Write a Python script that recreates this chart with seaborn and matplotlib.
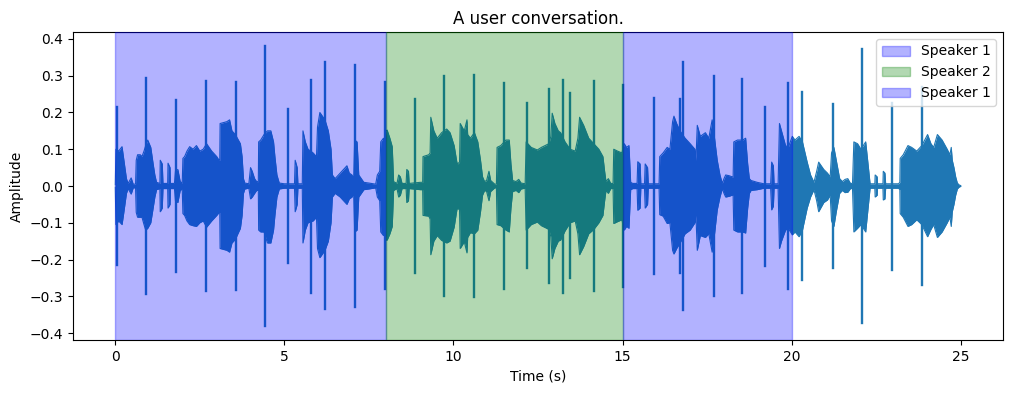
import matplotlib
matplotlib.use("Agg")
import matplotlib.pyplot as plt
import pandas as pd
import seaborn as sns

env_t = [
 0.00,0.02,0.10,0.20,0.24,0.30,0.33,0.38,0.47,0.53,
 0.60,0.62,0.66,0.74,0.79,0.85,0.90,0.96,1.05,1.12,
 1.17,1.22,1.32,1.33,1.39,1.41,1.55,1.56,1.62,1.63,
 1.75,1.78,1.85,1.92,1.98,2.00,2.05,2.12,2.20,2.30,
 2.40,2.50,2.60,2.70,2.85,3.00,3.07,3.09,3.10,3.30,
 3.38,3.45,3.55,3.70,3.75,3.79,3.83,3.95,4.00,4.05,
 4.12,4.18,4.23,4.24,4.30,4.40,4.50,4.60,4.68,4.72,
 4.78,4.85,5.00,5.30,5.32,5.38,5.40,5.53,5.55,5.62,
 5.70,5.85,5.95,5.98,6.05,6.20,6.30,6.38,6.42,6.50,
 6.65,6.75,6.85,6.92,7.00,7.05,7.08,7.15,7.20,7.35,
 7.50,7.70,7.75,7.82,7.85,7.93,7.96,8.00,8.04,8.12,
 8.19,8.23,8.33,8.38,8.43,8.48,8.60,8.62,8.67,8.69,
 9.02,9.09,9.10,9.27,9.31,9.33,9.42,9.52,9.65,9.80,
 9.90,10.02,10.10,10.12,10.18,10.20,10.32,10.40,10.42,10.50,
 10.62,10.72,10.80,10.86,10.92,10.98,11.05,11.10,11.22,11.27,
 11.29,11.40,11.55,11.65,11.70,11.75,11.85,11.93,12.00,12.12,
 12.15,12.20,12.30,12.48,12.60,12.82,12.88,12.92,13.00,13.10,
 13.17,13.30,13.45,13.60,13.68,13.73,13.85,14.00,14.15,14.30,
 14.42,14.47,14.51,14.58,14.65,14.72,14.74,14.85,14.98,15.05,
 15.12,15.19,15.24,15.30,15.43,15.45,15.52,15.54,15.65,15.67,
 15.74,15.76,16.00,16.08,16.10,16.20,16.32,16.40,16.48,16.52,
 16.60,16.70,16.85,17.00,17.14,17.17,17.21,17.30,17.45,17.55,
 17.65,17.72,17.80,17.88,17.95,18.00,18.05,18.15,18.24,18.27,
 18.29,18.40,18.55,18.64,18.70,18.75,18.80,18.98,19.18,19.38,
 19.41,19.46,19.48,19.60,19.64,19.70,19.82,19.90,20.02,20.10,
 20.22,20.32,20.46,20.56,20.66,20.74,20.80,20.95,21.06,21.14,
 21.18,21.25,21.32,21.42,21.50,21.58,21.66,21.74,21.80,21.84,
 21.95,22.05,22.19,22.26,22.32,22.46,22.47,22.53,22.54,22.70,
 22.71,22.76,22.78,23.16,23.20,23.21,23.30,23.44,23.55,23.70,
 23.85,24.02,24.12,24.20,24.31,24.45,24.60,24.68,24.72,24.75,
 24.80,24.85,24.90,24.95,25.00]
env_up = [
 .003,.100,.095,.107,.080,.040,.020,.007,.022,.005,
 .005,.070,.085,.085,.080,.095,.110,.125,.105,.060,
 .030,.010,.007,.070,.060,.007,.007,.062,.050,.007,
 .007,.040,.045,.012,.008,.075,.080,.095,.107,.100,
 .110,.095,.100,.115,.095,.080,.070,.070,.170,.175,
 .180,.150,.140,.115,.080,.020,.008,.006,.050,.040,
 .020,.012,.012,.120,.125,.140,.150,.150,.120,.080,
 .030,.008,.006,.006,.070,.050,.006,.006,.150,.120,
 .100,.090,.080,.160,.200,.180,.150,.100,.030,.020,
 .035,.045,.055,.035,.030,.020,.125,.120,.030,.010,
 .008,.005,.030,.040,.120,.130,.090,.150,.152,.130,
 .107,.012,.007,.030,.025,.007,.007,.045,.040,.007,
 .010,.010,.080,.085,.090,.187,.150,.130,.145,.155,
 .145,.110,.065,.060,.065,.170,.150,.180,.140,.130,
 .145,.120,.070,.025,.012,.015,.040,.015,.005,.005,
 .105,.110,.125,.125,.060,.015,.012,.018,.008,.006,
 .120,.115,.105,.098,.105,.115,.135,.198,.170,.150,
 .145,.120,.100,.095,.130,.187,.165,.130,.115,.100,
 .080,.040,.012,.020,.007,.007,.100,.095,.090,.115,
 .105,.110,.010,.007,.007,.066,.060,.006,.006,.060,
 .050,.006,.006,.006,.080,.090,.105,.100,.175,.190,
 .170,.150,.130,.115,.100,.070,.165,.135,.145,.130,
 .180,.130,.070,.030,.007,.020,.030,.028,.025,.025,
 .120,.125,.125,.130,.060,.020,.015,.010,.006,.006,
 .065,.055,.006,.006,.170,.150,.110,.105,.135,.125,
 .135,.120,.065,.030,.010,.040,.065,.045,.035,.025,
 .090,.105,.070,.020,.012,.018,.020,.007,.007,.120,
 .115,.100,.120,.060,.006,.006,.030,.025,.006,.006,
 .040,.035,.006,.006,.010,.075,.085,.110,.105,.095,
 .110,.140,.115,.105,.140,.125,.100,.085,.105,.070,
 .050,.025,.008,.003,.001]
env_dn = [
 -.003,-.105,-.095,-.105,-.080,-.040,-.020,-.007,-.022,-.005,
 -.005,-.072,-.085,-.085,-.085,-.105,-.120,-.115,-.100,-.060,
 -.030,-.010,-.007,-.070,-.060,-.007,-.007,-.060,-.050,-.007,
 -.007,-.040,-.045,-.012,-.008,-.075,-.080,-.095,-.105,-.108,
 -.110,-.100,-.095,-.112,-.095,-.080,-.072,-.072,-.170,-.175,
 -.180,-.155,-.145,-.115,-.080,-.020,-.008,-.006,-.035,-.030,
 -.020,-.012,-.012,-.120,-.125,-.125,-.155,-.155,-.120,-.080,
 -.030,-.008,-.006,-.006,-.070,-.050,-.006,-.006,-.155,-.120,
 -.100,-.095,-.085,-.170,-.195,-.175,-.150,-.100,-.030,-.020,
 -.030,-.040,-.050,-.035,-.030,-.020,-.125,-.120,-.030,-.010,
 -.008,-.005,-.030,-.040,-.125,-.135,-.090,-.147,-.147,-.130,
 -.110,-.012,-.007,-.030,-.025,-.007,-.007,-.045,-.040,-.007,
 -.010,-.010,-.080,-.082,-.090,-.187,-.150,-.135,-.148,-.155,
 -.150,-.112,-.065,-.060,-.065,-.170,-.152,-.182,-.140,-.127,
 -.130,-.120,-.070,-.025,-.012,-.015,-.040,-.015,-.005,-.005,
 -.105,-.108,-.120,-.125,-.060,-.015,-.012,-.018,-.008,-.006,
 -.120,-.115,-.105,-.098,-.108,-.118,-.138,-.198,-.170,-.150,
 -.147,-.122,-.100,-.095,-.130,-.187,-.165,-.130,-.118,-.100,
 -.080,-.040,-.012,-.020,-.007,-.007,-.102,-.097,-.092,-.120,
 -.110,-.115,-.010,-.007,-.007,-.066,-.060,-.006,-.006,-.060,
 -.050,-.006,-.006,-.006,-.078,-.082,-.102,-.100,-.175,-.185,
 -.170,-.155,-.130,-.120,-.100,-.080,-.175,-.135,-.140,-.130,
 -.180,-.130,-.065,-.030,-.007,-.020,-.030,-.028,-.025,-.025,
 -.120,-.125,-.125,-.128,-.060,-.020,-.012,-.010,-.006,-.006,
 -.065,-.055,-.006,-.006,-.170,-.150,-.120,-.115,-.133,-.125,
 -.138,-.120,-.060,-.030,-.010,-.040,-.070,-.045,-.038,-.025,
 -.095,-.110,-.070,-.020,-.012,-.018,-.017,-.007,-.007,-.125,
 -.115,-.105,-.125,-.060,-.006,-.006,-.030,-.025,-.006,-.006,
 -.038,-.035,-.006,-.006,-.010,-.075,-.085,-.110,-.105,-.092,
 -.105,-.138,-.118,-.105,-.140,-.125,-.100,-.085,-.110,-.070,
 -.050,-.025,-.008,-.003,-.001]

spike_t = [0.05,0.91,1.80,2.69,3.58,4.44,5.12,5.78,6.21,7.10,7.97,8.86,9.73,10.62,11.50,12.16,12.84,13.25,13.46,14.16,15.02,15.92,16.71,16.78,17.69,18.54,19.22,19.88,20.32,21.21,22.07,22.97,23.85]
spike_up = [0.214,0.293,0.234,0.286,0.284,0.382,0.209,0.289,0.337,0.329,0.282,0.236,0.298,0.302,0.281,0.225,0.263,0.289,0.252,0.286,0.275,0.240,0.236,0.337,0.300,0.291,0.216,0.280,0.255,0.222,0.373,0.225,0.270]
spike_dn = [-0.215,-0.295,-0.233,-0.286,-0.283,-0.381,-0.209,-0.290,-0.336,-0.328,-0.281,-0.238,-0.299,-0.303,-0.280,-0.224,-0.263,-0.290,-0.251,-0.286,-0.274,-0.240,-0.238,-0.338,-0.300,-0.292,-0.217,-0.280,-0.256,-0.222,-0.372,-0.229,-0.268]

turn_starts = [0, 8, 15]
turn_ends = [8, 15, 20]
turn_speakers = ["Speaker 1", "Speaker 2", "Speaker 1"]
speaker_colors = {"Speaker 1": "blue", "Speaker 2": "green"}

spikes = pd.DataFrame({
    "t": [v for t in spike_t for v in (t, t)],
    "a": [v for pair in zip(spike_up, spike_dn) for v in pair],
    "id": [i for i in range(len(spike_t)) for _ in (0, 1)],
})

fig, ax = plt.subplots(figsize=(10.12, 3.93), dpi=100)
fig.subplots_adjust(left=73/1012, right=1003/1012, top=1-32/393, bottom=1-340/393)

ax.fill_between(env_t, env_dn, env_up, color="C0", lw=0, zorder=2)
sns.lineplot(x=env_t, y=env_up, ax=ax, color="C0", lw=0.8, estimator=None, sort=False, zorder=2)
sns.lineplot(x=env_t, y=env_dn, ax=ax, color="C0", lw=0.8, estimator=None, sort=False, zorder=2)
sns.lineplot(data=spikes, x="t", y="a", units="id", ax=ax, color="C0", lw=1.7,
             estimator=None, sort=False, zorder=2)

for s, e, sp in zip(turn_starts, turn_ends, turn_speakers):
    ax.axvspan(s, e, color=speaker_colors[sp], alpha=0.3, label=sp, zorder=3)

ax.set_xlim(-1.25, 26.25)
ax.set_ylim(-0.419, 0.419)
ax.set_title("A user conversation.")
ax.set_xlabel("Time (s)")
ax.set_ylabel("Amplitude")
ax.legend(loc="upper right")
fig.savefig("out.png", dpi=100)
